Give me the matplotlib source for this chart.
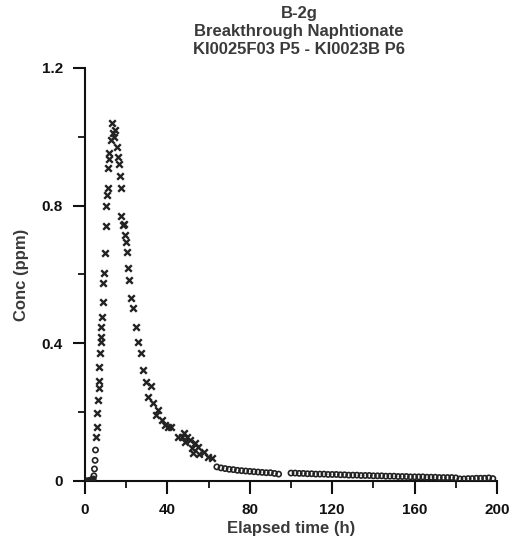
import matplotlib
matplotlib.use("Agg")
import matplotlib.pyplot as plt
from matplotlib.ticker import MultipleLocator

plt.rcParams["font.family"] = ["Liberation Sans", "DejaVu Sans"]
plt.rcParams["font.weight"] = "bold"

# rising limb and peak, measured points (x markers)
rise_t = [5.3, 5.6, 6.0, 6.3, 6.6, 6.8, 7.0, 7.3, 7.6, 7.8, 8.0, 8.3, 8.5, 8.7, 9.2,
          9.7, 10.2, 10.2, 10.7, 11.0, 11.2, 11.7, 11.7, 12.6, 13.1, 13.4, 14.0, 14.4]
rise_c = [0.128, 0.157, 0.198, 0.235, 0.27, 0.29, 0.33, 0.372, 0.404, 0.419, 0.448,
          0.477, 0.52, 0.576, 0.605, 0.663, 0.74, 0.80, 0.83, 0.85, 0.91, 0.937,
          0.954, 0.99, 1.039, 1.012, 1.0, 1.02]

# falling limb (x markers)
fall_t = [15.5, 16.0, 16.4, 17.0, 17.5, 17.5, 18.4, 18.8, 19.2, 19.7, 20.4, 21.0,
          21.5, 22.3, 23.3, 24.8, 25.7, 27.0, 28.0, 29.6, 30.6, 32.0, 33.0, 35.5,
          34.6, 37.4, 38.8, 40.3, 41.7, 45.0, 47.0, 48.0, 48.5, 49.5, 51.0, 52.0,
          52.4, 53.4, 55.0, 55.3, 57.8, 59.7, 61.7]
fall_c = [0.97, 0.94, 0.92, 0.885, 0.85, 0.77, 0.745, 0.748, 0.716, 0.695, 0.666,
          0.62, 0.585, 0.532, 0.503, 0.448, 0.404, 0.372, 0.323, 0.288, 0.244,
          0.276, 0.227, 0.207, 0.192, 0.177, 0.163, 0.157, 0.157, 0.128, 0.128,
          0.14, 0.113, 0.128, 0.119, 0.096, 0.081, 0.11, 0.099, 0.078, 0.084,
          0.07, 0.067]

# baseline before arrival and tail (small open circles)
base_t = [0.0, 0.5, 1.0, 1.5, 2.0, 2.5, 3.0, 3.5, 4.0, 4.3, 4.6, 4.9, 5.1]
base_c = [0.0, 0.0, 0.0, 0.0, 0.0, 0.002, 0.003, 0.004, 0.006, 0.015, 0.035, 0.06, 0.09]

tail_t = [64, 66, 68, 70, 72, 74, 76, 78, 80, 82, 84, 86, 88, 90, 92, 94,
          100, 102, 104, 106, 108, 110, 112, 114, 116, 118, 120, 122, 124, 126,
          128, 130, 132, 134, 136, 138, 140, 142, 144, 146, 148, 150, 152, 154,
          156, 158, 160, 162, 164, 166, 168, 170, 172, 174, 176, 178, 180, 182,
          184, 186, 188, 190, 192, 194, 196, 198]
tail_c = [0.041, 0.038, 0.036, 0.034, 0.033, 0.031, 0.030, 0.029, 0.028, 0.027,
          0.026, 0.025, 0.024, 0.024, 0.022, 0.02,
          0.023, 0.023, 0.022, 0.022, 0.021, 0.021, 0.020, 0.020, 0.020, 0.019,
          0.019, 0.019, 0.018, 0.018, 0.017, 0.017, 0.017, 0.016, 0.016, 0.016,
          0.015, 0.015, 0.015, 0.014, 0.014, 0.014, 0.013, 0.013, 0.013, 0.012,
          0.012, 0.012, 0.012, 0.011, 0.011, 0.011, 0.010, 0.010, 0.010, 0.010,
          0.009, 0.006, 0.006, 0.007, 0.007, 0.008, 0.008, 0.008, 0.009, 0.007]

fig = plt.figure(figsize=(5.17, 5.43), dpi=100)
ax = fig.add_axes([0.1644, 0.1142, 0.7969, 0.7606])

ink = "#222222"
ax.scatter(rise_t, rise_c, marker="x", s=22, linewidths=1.7, color=ink, zorder=3)
ax.scatter(fall_t, fall_c, marker="x", s=22, linewidths=1.7, color=ink, zorder=3)
ax.scatter(base_t, base_c, marker="o", s=14, facecolors="none", edgecolors=ink,
           linewidths=1.2, zorder=3)
ax.scatter(tail_t, tail_c, marker="o", s=14, facecolors="none", edgecolors=ink,
           linewidths=1.2, zorder=3)

ax.set_xlim(0, 200)
ax.set_ylim(0, 1.2)
ax.xaxis.set_major_locator(MultipleLocator(40))
ax.xaxis.set_minor_locator(MultipleLocator(20))
ax.yaxis.set_major_locator(MultipleLocator(0.4))
ax.yaxis.set_minor_locator(MultipleLocator(0.2))
ax.set_yticks([0, 0.4, 0.8, 1.2])
ax.set_yticklabels(["0", "0.4", "0.8", "1.2"])

for side in ["top", "right"]:
    ax.spines[side].set_visible(False)
for side in ["left", "bottom"]:
    ax.spines[side].set_linewidth(1.5)
    ax.spines[side].set_color("#111111")
ax.spines["bottom"].set_bounds(0, 200)

ax.tick_params(which="major", direction="out", length=9, width=1.5, labelsize=11,
               colors="#111111", pad=7)
ax.tick_params(which="minor", direction="out", length=5, width=1.3, colors="#111111")
for lab in ax.get_xticklabels() + ax.get_yticklabels():
    lab.set_fontweight("bold")

ax.set_xlabel("Elapsed time (h)", fontsize=12, fontweight="bold", color="#3a3a3a",
              labelpad=3)
ax.set_ylabel("Conc (ppm)", fontsize=12, fontweight="bold", color="#3a3a3a",
              labelpad=9)

title_lines = ["B-2g", "Breakthrough Naphtionate", "KI0025F03 P5 - KI0023B P6"]
for i, line in enumerate(title_lines):
    fig.text(0.578, 0.975 - i * 0.033, line, ha="center", va="center",
             fontsize=12, fontweight="bold", color="#3a3a3a")

fig.savefig("out.png", dpi=100)
